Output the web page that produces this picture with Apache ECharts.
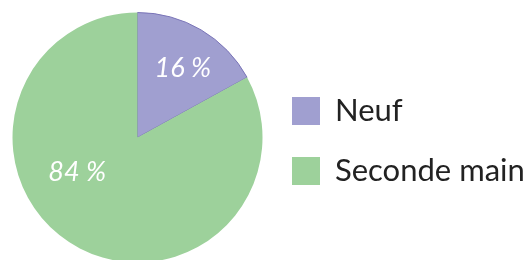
<!DOCTYPE html>
<html>
<head>
    <meta charset="utf-8">
    <title>ECharts</title>
    <script type="text/javascript" src="https://cdn.jsdelivr.net/npm/echarts@6/dist/echarts.min.js"></script>
    <style>
        html, body { margin: 0; padding: 0; background: #fff; }
    </style>
</head>
<body>
	<div id="main" style="height:260px; width:532px;"></div>
	<script type="text/javascript">
	var categories = ['Neuf', 'Seconde main'];
	var values = [17, 83];
	var labels = ['16 %', '84 %'];
	var colors = ['#a09fd0', '#9dd19b'];

	var myChart = echarts.init(document.getElementById('main'));

	// label offsets from the default "inside" spot
	var offsets = [[12, -13], [-27, -22]];

	var option = {
		animation: false,
		backgroundColor: '#fff',
		legend: {
			orient: 'vertical',
			left: 292,
			top: 95,
			padding: 0,
			itemWidth: 28,
			itemHeight: 28,
			itemGap: 28,
			icon: 'rect',
			itemStyle: {borderWidth: 0},
			textStyle: {
				fontFamily: 'Lato',
				fontSize: 31,
				lineHeight: 28,
				color: '#222',
				padding: [4, 0, 0, 10]
			},
			data: categories
		},
		series: [{
			type: 'pie',
			center: [137.5, 137.5],
			radius: 125,
			startAngle: 90,
			clockwise: true,
			label: {
				show: true,
				position: 'inside',
				fontFamily: 'Lato',
				fontStyle: 'italic',
				fontSize: 27,
				color: '#fff'
			},
			labelLine: {show: false},
			data: []
		}]
	};
	categories.forEach(function(v, k){
		option.series[0].data.push({
			name: v,
			value: values[k],
			label: {formatter: labels[k], offset: offsets[k]},
			itemStyle: k == 0
				? {color: colors[k], borderColor: '#7b75b8', borderWidth: 1}
				: {color: colors[k], borderWidth: 0}
		});
	});
	myChart.setOption(option);
	</script>
</body>
</html>
